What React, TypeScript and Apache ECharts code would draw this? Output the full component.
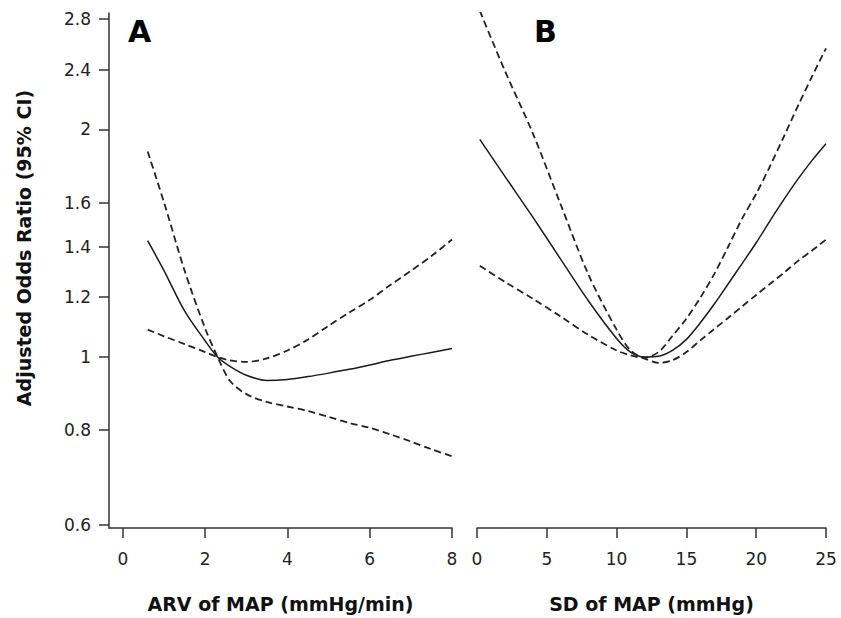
import { useEffect, useRef } from "react";
import * as echarts from "echarts";

const yTicks = [0.6, 0.8, 1, 1.2, 1.4, 1.6, 2, 2.4, 2.8];
const xTicksA = [0, 2, 4, 6, 8];
const xTicksB = [0, 5, 10, 15, 20, 25];

const xA = [0.6, 1.0, 1.5, 2.0, 2.3, 2.6, 3.0, 3.5, 4.0, 4.5, 5, 5.5, 6, 6.5, 7, 7.5, 8];
const orA = [1.425, 1.3, 1.15, 1.05, 1.0, 0.972, 0.946, 0.931, 0.934, 0.942, 0.952, 0.963, 0.976, 0.99, 1.002, 1.014, 1.026];
const ciA1 = [1.87, 1.6, 1.3, 1.09, 1.0, 0.93, 0.893, 0.872, 0.86, 0.848, 0.833, 0.818, 0.806, 0.79, 0.773, 0.755, 0.739];
const ciA2 = [1.087, 1.065, 1.04, 1.015, 1.0, 0.99, 0.985, 0.996, 1.02, 1.055, 1.1, 1.145, 1.19, 1.245, 1.3, 1.36, 1.43];

const xB = [0.2, 2, 4, 6, 8, 10, 11, 12, 13, 14, 15, 16, 17, 18, 19, 20, 21, 22, 23, 24, 25];
const orB = [1.94, 1.733, 1.531, 1.346, 1.185, 1.058, 1.015, 1.0, 1.002, 1.02, 1.055, 1.11, 1.175, 1.25, 1.33, 1.416, 1.515, 1.617, 1.72, 1.82, 1.915];
const ciB1 = [2.87, 2.39, 1.976, 1.59, 1.283, 1.087, 1.02, 0.998, 1.015, 1.066, 1.124, 1.198, 1.288, 1.4, 1.525, 1.644, 1.79, 1.96, 2.15, 2.35, 2.56];
const ciB2 = [1.32, 1.257, 1.194, 1.131, 1.069, 1.02, 1.005, 0.995, 0.982, 0.99, 1.015, 1.052, 1.089, 1.127, 1.167, 1.208, 1.25, 1.293, 1.34, 1.383, 1.43];

const Y_MIN = 0.594;
const Y_MAX = 2.851;

const FONT = "'DejaVu Sans', 'Liberation Sans', Arial, sans-serif";

function pts(xs: number[], ys: number[]) {
  return xs.map((x, i) => [x, Math.log(ys[i])]);
}

export default function App() {
  const ref = useRef<HTMLDivElement>(null);
  useEffect(() => {
    if (!ref.current) return;
    const chart = echarts.init(ref.current, undefined, { renderer: "svg" });
    const axisLineStyle = { color: "#333", width: 1.5 };
    const labelStyle = { color: "#222", fontSize: 17, fontFamily: FONT };
    const nameStyle = { color: "#111", fontSize: 19, fontWeight: "bold", fontFamily: FONT };
    const yCustom = yTicks.map((v) => Math.log(v));
    const yAxisCommon = {
      type: "value",
      min: Math.log(Y_MIN),
      max: Math.log(Y_MAX),
      splitLine: { show: false },
    };
    const solid = { color: "#1a1a1a", width: 1.5, type: "solid" };
    const dashed = { color: "#222", width: 1.8, type: [7, 4] };
    const mk = (name: string, xs: number[], ys: number[], idx: number, ls: any) => ({
      type: "line",
      name,
      xAxisIndex: idx,
      yAxisIndex: idx,
      data: pts(xs, ys),
      smooth: 0.3,
      showSymbol: false,
      symbol: "none",
      lineStyle: ls,
      clip: true,
      silent: true,
    });
    chart.setOption({
      animation: false,
      backgroundColor: "#fff",
      grid: [
        { left: 109, top: 13, width: 343, height: 520 },
        { left: 477, top: 13, width: 349, height: 520 },
      ],
      xAxis: [
        {
          gridIndex: 0,
          type: "value",
          min: -0.34,
          max: 8,
          axisLine: { show: true, onZero: false, lineStyle: axisLineStyle },
          axisTick: { show: true, length: 10, lineStyle: axisLineStyle, customValues: xTicksA },
          axisLabel: { ...labelStyle, margin: 22, customValues: xTicksA },
          splitLine: { show: false },
          name: "ARV of MAP (mmHg/min)",
          nameLocation: "middle",
          nameGap: 66,
          nameTextStyle: nameStyle,
        },
        {
          gridIndex: 1,
          type: "value",
          min: 0,
          max: 25,
          interval: 5,
          axisLine: { show: true, onZero: false, lineStyle: axisLineStyle },
          axisTick: { show: true, length: 10, lineStyle: axisLineStyle, customValues: xTicksB },
          axisLabel: { ...labelStyle, margin: 22, customValues: xTicksB, showMinLabel: true, showMaxLabel: true },
          splitLine: { show: false },
          name: "SD of MAP (mmHg)",
          nameLocation: "middle",
          nameGap: 66,
          nameTextStyle: nameStyle,
        },
      ],
      yAxis: [
        {
          ...yAxisCommon,
          gridIndex: 0,
          axisLine: { show: true, onZero: false, lineStyle: axisLineStyle },
          axisTick: { show: true, length: 10, lineStyle: axisLineStyle, customValues: yCustom },
          axisLabel: {
            ...labelStyle,
            margin: 18,
            customValues: yCustom,
            formatter: (v: number) => String(Math.round(Math.exp(v) * 10) / 10),
          },
        },
        {
          ...yAxisCommon,
          gridIndex: 1,
          show: false,
          axisLine: { show: false, onZero: false },
          axisTick: { show: false },
          axisLabel: { show: false },
        },
      ],
      graphic: [
        {
          type: "text",
          x: 24,
          y: 248,
          rotation: Math.PI / 2,
          style: {
            text: "Adjusted Odds Ratio (95% CI)",
            fill: "#111",
            font: `bold 19px ${FONT}`,
            textAlign: "center",
            textVerticalAlign: "middle",
          },
        },
        {
          type: "text",
          x: 128,
          y: 31,
          style: { text: "A", fill: "#000", font: `bold 30px ${FONT}`, textAlign: "left", textVerticalAlign: "middle" },
        },
        {
          type: "text",
          x: 534,
          y: 31,
          style: { text: "B", fill: "#000", font: `bold 30px ${FONT}`, textAlign: "left", textVerticalAlign: "middle" },
        },
      ],
      series: [
        mk("OR A", xA, orA, 0, solid),
        mk("CI A upper", xA, ciA1, 0, dashed),
        mk("CI A lower", xA, ciA2, 0, dashed),
        mk("OR B", xB, orB, 1, solid),
        mk("CI B upper", xB, ciB1, 1, dashed),
        mk("CI B lower", xB, ciB2, 1, dashed),
      ],
    });
    return () => chart.dispose();
  }, []);
  return (
    <div
      ref={ref}
      style={{ position: "fixed", left: 0, top: 0, width: 841, height: 618, background: "#fff" }}
    />
  );
}
